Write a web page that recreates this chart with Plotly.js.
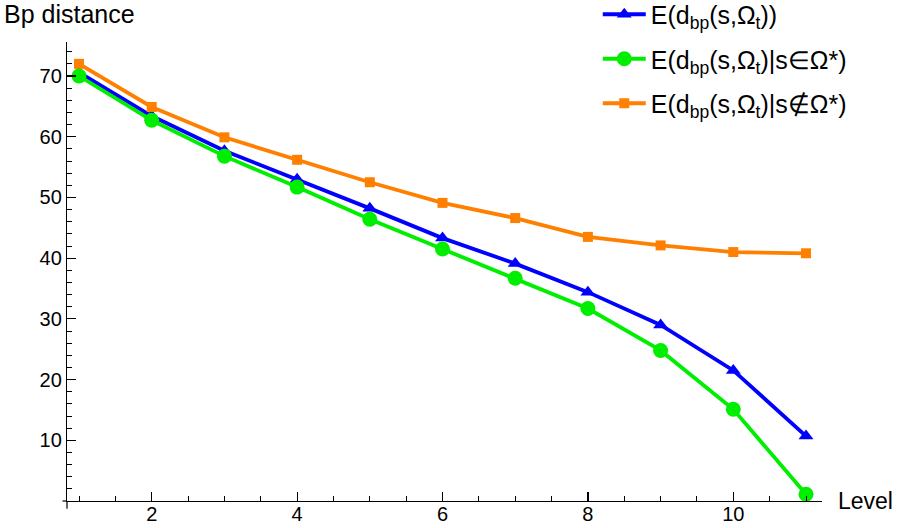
<!DOCTYPE html>
<html>
<head>
<meta charset="utf-8">
<script src="https://cdn.plot.ly/plotly-3.0.1.min.js"></script>
<style>html,body{margin:0;padding:0;background:#fff;}#chart{width:898px;height:528px;}</style>
</head>
<body>
<div id="chart"></div>
<script>
const levels = [1, 2, 3, 4, 5, 6, 7, 8, 9, 10, 11];
const expAll = [70.6, 63.4, 57.7, 53.0, 48.2, 43.3, 39.1, 34.4, 29.0, 21.5, 10.7];
const expIn = [70.0, 62.7, 56.8, 51.7, 46.4, 41.5, 36.7, 31.7, 24.8, 15.1, 1.1];
const expOut = [72.0, 64.9, 59.9, 56.2, 52.5, 49.1, 46.6, 43.5, 42.1, 41.0, 40.8];
const seriesNames = [
  "E(d<sub>bp</sub>(s,Ω<sub>t</sub>))",
  "E(d<sub>bp</sub>(s,Ω<sub>t</sub>)|s∈Ω*)",
  "E(d<sub>bp</sub>(s,Ω<sub>t</sub>)|s∉Ω*)"
];
const xTicks = [2, 4, 6, 8, 10];
const yTicks = [10, 20, 30, 40, 50, 60, 70];

const font = "Liberation Sans, Arial, Helvetica, sans-serif";
const traces = [
  {x: levels, y: expAll, name: seriesNames[0], legendgroup: "a", mode: "lines+markers",
   line: {color: "#0000ff", width: 3.8}, marker: {symbol: "triangle-up", size: 13, color: "#0000ff"}},
  {x: levels, y: expIn, name: seriesNames[1], legendgroup: "b", mode: "lines+markers",
   line: {color: "#00ee00", width: 3.8}, marker: {symbol: "circle", size: 15, color: "#00ee00"}},
  {x: levels, y: expOut, name: seriesNames[2], legendgroup: "c", mode: "lines+markers",
   line: {color: "#ff8000", width: 3.8}, marker: {symbol: "square", size: 10, color: "#ff8000"}}
];
const layout = {
  width: 898, height: 528,
  margin: {l: 67, r: 76, t: 42, b: 27, pad: 0, autoexpand: false},
  paper_bgcolor: "#fff", plot_bgcolor: "#fff",
  font: {family: font, size: 20, color: "#000"},
  showlegend: true,
  hovermode: false,
  legend: {x: 0.703, y: 1.11, xanchor: "left", yanchor: "top", bgcolor: "rgba(0,0,0,0)",
           font: {family: font, size: 25, color: "#000"}, itemwidth: 43, tracegroupgap: 9,
           traceorder: "grouped"},
  xaxis: {range: [0.835, 11.22], showgrid: false, zeroline: false, showline: true,
          linecolor: "#000", linewidth: 1.2, tickvals: xTicks, ticks: "inside", ticklen: 9,
          tickwidth: 1.2, tickcolor: "#000", tickfont: {size: 20}, ticklabelstandoff: -5,
          minor: {dtick: 0.5, ticks: "inside", ticklen: 5, tickwidth: 1, tickcolor: "#000"}},
  yaxis: {range: [0, 75.6], showgrid: false, zeroline: false, showline: true,
          linecolor: "#000", linewidth: 1.2, tickvals: yTicks, ticks: "inside", ticklen: 9,
          tickwidth: 1.2, tickcolor: "#000", tickfont: {size: 20},
          minor: {dtick: 2, ticks: "inside", ticklen: 5, tickwidth: 1, tickcolor: "#000"}},
  shapes: [
    {type: "line", xref: "paper", yref: "paper", x0: 0, x1: 0, y0: 0, y1: -0.017,
     line: {color: "#000", width: 1.2}},
    {type: "line", xref: "paper", yref: "paper", x0: 0, x1: -0.006, y0: 0, y1: 0,
     line: {color: "#000", width: 1.2}}
  ],
  annotations: [
    {text: "Bp distance", xref: "paper", yref: "paper", x: 0, y: 1, xanchor: "left", yanchor: "bottom",
     xshift: -65, yshift: 12, showarrow: false, font: {family: font, size: 25, color: "#000"}},
    {text: "Level", xref: "paper", yref: "paper", x: 1, y: 0, xanchor: "left", yanchor: "middle",
     xshift: 14, yshift: 0, showarrow: false, font: {family: font, size: 23, color: "#000"}}
  ]
};
Plotly.newPlot("chart", traces, layout, {displayModeBar: false, staticPlot: true});
</script>
</body>
</html>
